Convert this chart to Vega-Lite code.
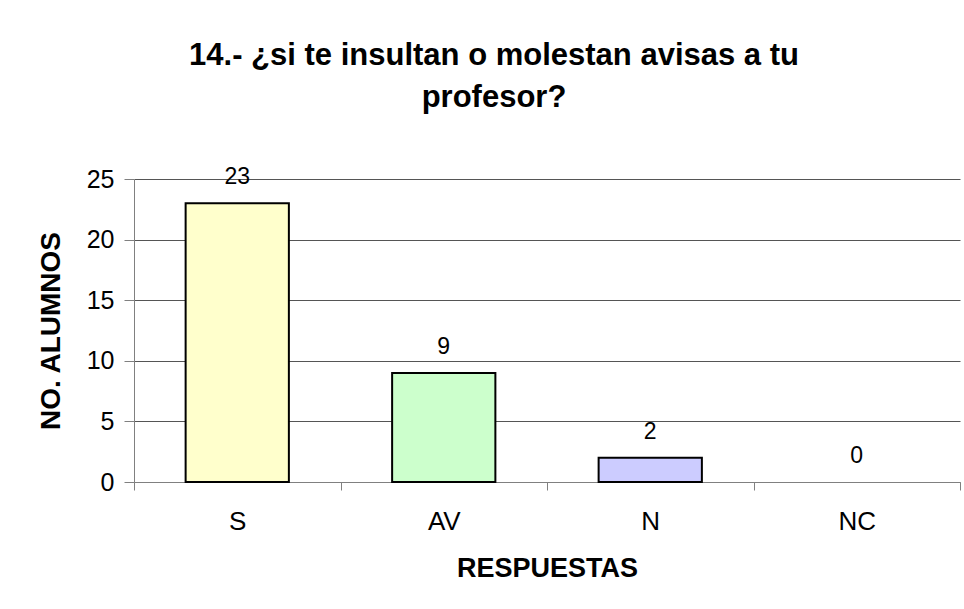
{
  "$schema": "https://vega.github.io/schema/vega-lite/v6.json",
  "autosize": {"type": "none"},
  "padding": {"left": 134, "top": 179, "right": 4, "bottom": 127},
  "width": 826,
  "height": 303,
  "background": "white",
  "title": {
    "text": ["14.- ¿si te insultan o molestan avisas a tu", "profesor?"],
    "font": "Liberation Sans",
    "fontSize": 31,
    "fontWeight": "bold",
    "lineHeight": 42,
    "color": "black",
    "anchor": "middle",
    "frame": "group",
    "dx": -53,
    "offset": 52
  },
  "data": {
    "values": [
      {"respuesta": "S", "alumnos": 23},
      {"respuesta": "AV", "alumnos": 9},
      {"respuesta": "N", "alumnos": 2},
      {"respuesta": "NC", "alumnos": 0}
    ]
  },
  "encoding": {
    "x": {
      "field": "respuesta",
      "type": "nominal",
      "sort": ["S", "AV", "N", "NC"],
      "scale": {"domain": ["S", "AV", "N", "NC"], "paddingInner": 0, "paddingOuter": 0},
      "axis": {
        "title": "RESPUESTAS",
        "titleFont": "Liberation Sans",
        "titleFontSize": 27,
        "titleFontWeight": "bold",
        "titleColor": "black",
        "titlePadding": 21,
        "labelFont": "Liberation Sans",
        "labelFontSize": 26,
        "labelColor": "black",
        "labelAngle": 0,
        "labelPadding": 18,
        "tickBand": "extent",
        "tickSize": 8,
        "tickColor": "#808080",
        "domainColor": "#808080",
        "grid": false
      }
    },
    "y": {
      "field": "alumnos",
      "type": "quantitative",
      "scale": {"domain": [0, 25], "nice": false},
      "axis": {
        "title": "NO. ALUMNOS",
        "titleFont": "Liberation Sans",
        "titleFontSize": 28,
        "titleFontWeight": "bold",
        "titleColor": "black",
        "titlePadding": 21,
        "values": [0, 5, 10, 15, 20, 25],
        "labelFont": "Liberation Sans",
        "labelFontSize": 25,
        "labelColor": "black",
        "labelPadding": 10,
        "tickSize": 10,
        "tickColor": "#808080",
        "domainColor": "#808080",
        "grid": true,
        "gridColor": "#555555",
        "gridWidth": 1
      }
    }
  },
  "layer": [
    {
      "transform": [{"filter": "datum.alumnos > 0"}],
      "mark": {"type": "bar", "stroke": "black", "strokeWidth": 2, "width": {"band": 0.5}},
      "encoding": {
        "color": {
          "field": "respuesta",
          "type": "nominal",
          "scale": {"domain": ["S", "AV", "N", "NC"], "range": ["#FFFFCC", "#CCFFCC", "#CCCCFF", "#FFCCCC"]},
          "legend": null
        }
      }
    },
    {
      "mark": {"type": "text", "font": "Liberation Sans", "fontSize": 23, "color": "black", "baseline": "alphabetic", "dy": -19},
      "encoding": {
        "text": {"field": "alumnos", "type": "quantitative"}
      }
    }
  ],
  "config": {"view": {"stroke": null}}
}
